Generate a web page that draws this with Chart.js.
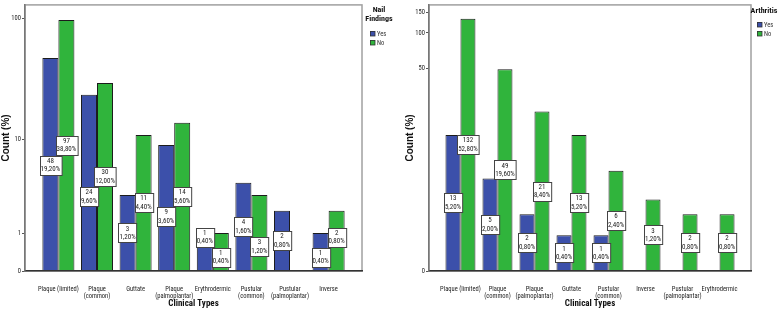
<!DOCTYPE html>
<html>
<head>
<meta charset="utf-8">
<script src="https://cdn.jsdelivr.net/npm/chart.js@4.4.1/dist/chart.umd.min.js"></script>
<style>
  html, body { margin: 0; padding: 0; background: #fff; }
  body { width: 778px; height: 311px; position: relative; overflow: hidden; }
  .box { position: absolute; top: 0; height: 311px; }
  #nailBox { left: 0; width: 400px; }
  #arthBox { left: 380px; width: 398px; }
</style>
</head>
<body>
<div class="box" id="nailBox"><canvas id="nailChart" width="400" height="311"></canvas></div>
<div class="box" id="arthBox"><canvas id="arthChart" width="398" height="311"></canvas></div>
<script>
/* Clinical types vs nail findings / arthritis (counts, N = 250) */
const nailCategories = ['Plaque (limited)', ['Plaque', '(common)'], 'Guttate', ['Plaque', '(palmoplantar)'],
  'Erythrodermic', ['Pustular', '(common)'], ['Pustular', '(palmoplantar)'], 'Inverse'];
const nailYes = [48, 24, 3, 9, 1, 4, 2, 1];
const nailNo = [97, 30, 11, 14, 1, 3, 0, 2];
const nailYesPct = ['19,20%', '9,60%', '1,20%', '3,60%', '0,40%', '1,60%', '0,80%', '0,40%'];
const nailNoPct = ['38,80%', '12,00%', '4,40%', '5,60%', '0,40%', '1,20%', null, '0,80%'];
const nailTicks = [0, 1, 10, 100];

const arthCategories = ['Plaque (limited)', ['Plaque', '(common)'], ['Plaque', '(palmoplantar)'], 'Guttate',
  ['Pustular', '(common)'], 'Inverse', ['Pustular', '(palmoplantar)'], 'Erythrodermic'];
const arthYes = [13, 5, 2, 1, 1, 0, 0, 0];
const arthNo = [132, 49, 21, 13, 6, 3, 2, 2];
const arthYesPct = ['5,20%', '2,00%', '0,80%', '0,40%', '0,40%', null, null, null];
const arthNoPct = ['52,80%', '19,60%', '8,40%', '5,20%', '2,40%', '1,20%', '0,80%', '0,80%'];
const arthTicks = [0, 50, 100, 150];

const seriesNames = ['Yes', 'No'];

const NARROW = "'Roboto Condensed', 'Open Sans Condensed', 'Liberation Sans', sans-serif";
const SANS = "'Liberation Sans', Arial, sans-serif";
const BLUE = '#3c50aa';
const GREEN = '#30b43c';

Chart.defaults.font.family = NARROW;
Chart.defaults.color = '#222';

// SPSS "safe log" axis: log10(1 + v)
class Log1pScale extends Chart.Scale {
  determineDataLimits() {
    this.min = this.options.min ?? 0;
    this.max = this.options.max;
  }
  buildTicks() {
    return this.options.tickValues.map(value => ({ value }));
  }
  configure() {
    super.configure();
    this._startValue = Math.log10(1 + this.min);
    this._valueRange = Math.log10(1 + this.max) - this._startValue;
  }
  getLabelForValue(value) { return String(value); }
  getPixelForValue(value) {
    if (value === null || value === undefined) return NaN;
    return this.getPixelForDecimal((Math.log10(1 + value) - this._startValue) / this._valueRange);
  }
  getValueForPixel(pixel) {
    return Math.pow(10, this._startValue + this.getDecimalForPixel(pixel) * this._valueRange) - 1;
  }
}
Log1pScale.id = 'log1p';
Log1pScale.defaults = {};
Chart.register(Log1pScale);

// grey frame round the plot
const frame = {
  id: 'frame',
  beforeDatasetsDraw(chart) {
    const { ctx, chartArea: a } = chart;
    ctx.save();
    ctx.strokeStyle = '#a0a0a0';
    ctx.lineWidth = 1.5;
    ctx.strokeRect(a.left, a.top, a.right - a.left, a.bottom - a.top);
    ctx.restore();
  }
};

// white boxed "count / percent" labels
const boxLabels = {
  id: 'boxLabels',
  afterDatasetsDraw(chart, args, opts) {
    const ctx = chart.ctx;
    const h = 19;
    const limit = chart.chartArea.bottom - 14;
    ctx.save();
    ctx.font = '7px ' + NARROW;
    const n = chart.data.datasets[0].data.length;
    for (let i = 0; i < n; i++) {
      const items = [];
      chart.data.datasets.forEach((ds, d) => {
        const pct = opts.texts[d][i];
        if (!pct) return;
        const el = chart.getDatasetMeta(d).data[i];
        const lines = [String(ds.data[i].y), pct];
        const w = Math.max(...lines.map(s => ctx.measureText(s).width)) + 2;
        items.push({ x: el.x, cy: Math.min((el.y + el.base) / 2, limit), w, lines });
      });
      if (items.length === 2) {
        const [a, b] = items[0].cy <= items[1].cy ? items : [items[1], items[0]];
        if (b.cy - a.cy < h + 1) {
          b.cy = a.cy + h + 1;
          if (b.cy > limit) { b.cy = limit; a.cy = limit - h - 1; }
        }
      }
      items.forEach(it => {
        const x0 = Math.round(it.x - it.w / 2) + 0.5;
        const y0 = Math.round(it.cy - h / 2) + 0.5;
        ctx.fillStyle = '#fff';
        ctx.fillRect(x0, y0, it.w, h);
        ctx.strokeStyle = '#444';
        ctx.lineWidth = 1;
        ctx.strokeRect(x0, y0, it.w, h);
        ctx.fillStyle = '#222';
        ctx.textAlign = 'center';
        ctx.textBaseline = 'middle';
        ctx.fillText(it.lines[0], it.x, it.cy - 4);
        ctx.fillText(it.lines[1], it.x, it.cy + 4.5);
      });
    }
    ctx.restore();
  }
};

// legend at the right: bold title + two small swatches
const sideLegend = {
  id: 'sideLegend',
  afterDraw(chart, args, opts) {
    const ctx = chart.ctx;
    ctx.save();
    ctx.textAlign = 'center';
    ctx.textBaseline = 'middle';
    ctx.fillStyle = '#111';
    ctx.font = 'bold 8px ' + NARROW;
    opts.title.forEach((t, k) => ctx.fillText(t, opts.cx, opts.ty + k * 9));
    ctx.font = '6.5px ' + NARROW;
    ctx.textAlign = 'left';
    chart.data.datasets.forEach((ds, d) => {
      const y = opts.iy + d * 9;
      ctx.fillStyle = ds.backgroundColor;
      ctx.fillRect(opts.sx, y, 5, 5);
      ctx.strokeStyle = '#333';
      ctx.lineWidth = 0.8;
      ctx.strokeRect(opts.sx + 0.5, y + 0.5, 4.5, 4.5);
      ctx.fillStyle = '#333';
      ctx.fillText(ds.label, opts.sx + 7, y + 3);
    });
    ctx.restore();
  }
};

function makeChart(id, cats, yes, no, yesPct, noPct, tickVals, yMax, xPad, catPct, yWidth, titlePad, padRight, legend) {
  const toPoints = arr => arr.map((v, i) => ({ x: i, y: v || null }));
  return new Chart(document.getElementById(id), {
    type: 'bar',
    data: {
      datasets: [
        { label: seriesNames[0], data: toPoints(yes), backgroundColor: BLUE, borderColor: '#1c1c1c', borderWidth: 1 },
        { label: seriesNames[1], data: toPoints(no), backgroundColor: GREEN, borderColor: '#1c1c1c', borderWidth: 1 }
      ]
    },
    options: {
      responsive: false,
      animation: false,
      events: [],
      categoryPercentage: catPct,
      barPercentage: 1,
      layout: { padding: { top: 2, right: padRight, left: 0, bottom: 0 } },
      plugins: {
        legend: { display: false },
        tooltip: { enabled: false },
        boxLabels: { texts: [yesPct, noPct] },
        sideLegend: legend
      },
      scales: {
        x: {
          type: 'linear',
          offset: false,
          bounds: 'data',
          min: -0.5 - xPad,
          max: cats.length - 0.5 + xPad,
          afterBuildTicks: axis => { axis.ticks = cats.map((c, i) => ({ value: i })); },
          afterFit: axis => { axis.height = 40; },
          grid: { display: false, offset: false },
          border: { display: true, color: '#333', width: 1.5, z: 1 },
          ticks: {
            autoSkip: false, maxRotation: 0, minRotation: 0, padding: 6,
            font: { size: 6.5, lineHeight: 1.2 }, color: '#222',
            callback: v => cats[v]
          },
          title: {
            display: true, text: 'Clinical Types', color: '#111',
            font: { size: 9, weight: 'bold' }, padding: { top: 0, bottom: 2 }
          }
        },
        y: {
          type: 'log1p',
          min: 0,
          max: yMax,
          tickValues: tickVals,
          afterFit: axis => { axis.width = yWidth; },
          grid: { display: true, drawOnChartArea: false, drawTicks: true, tickLength: 3, color: '#555' },
          border: { display: true, color: '#777', width: 1.5, z: 1 },
          ticks: { autoSkip: false, padding: 1, font: { size: 6.5 }, color: '#222' },
          title: {
            display: true, text: 'Count (%)', color: '#111',
            font: { family: SANS, size: 10, weight: 'bold' }, padding: { top: titlePad, bottom: 0 }
          }
        }
      }
    },
    plugins: [frame, boxLabels, sideLegend]
  });
}

makeChart('nailChart', nailCategories, nailYes, nailNo, nailYesPct, nailNoPct, nailTicks,
  128, 0.365, 0.83, 25, 0, 38,
  { title: ['Nail', 'Findings'], cx: 379, ty: 10, sx: 370, iy: 31 });

makeChart('arthChart', arthCategories, arthYes, arthNo, arthYesPct, arthNoPct, arthTicks,
  173, 0.35, 0.81, 49, 24, 27,
  { title: ['Arthritis'], cx: 384, ty: 11, sx: 377, iy: 22 });
</script>
</body>
</html>
